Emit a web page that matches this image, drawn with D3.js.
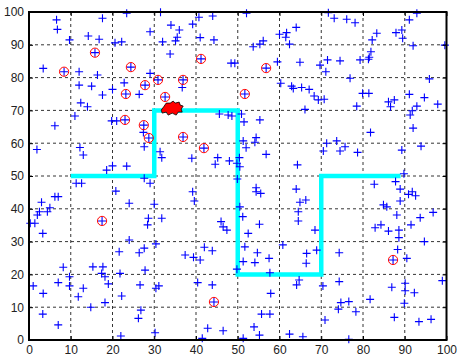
<!DOCTYPE html>
<html>
<head>
<meta charset="utf-8">
<script src="https://cdn.jsdelivr.net/npm/d3@7"></script>
<style>
  html, body { margin: 0; padding: 0; background: #fff; }
  svg { display: block; }
  text { font-family: "Liberation Sans", Arial, sans-serif; font-size: 12px; fill: #222; }
</style>
</head>
<body>
<svg id="chart" width="459" height="356"></svg>
<script>
// Tick values for both axes
const xTicks = [0, 10, 20, 30, 40, 50, 60, 70, 80, 90, 100];
const yTicks = [0, 10, 20, 30, 40, 50, 60, 70, 80, 90, 100];

// Scattered sensor nodes (blue +)
const nodes = [
  [6.6,97.6],[6.8,94.7],[9.7,91.5],[3.4,82.8],[14.2,92.7],[16.8,91.7],[17.6,98.1],[12.0,81.8],[16.4,80.8],[12.0,77.7],[15.0,77.4],[17.6,74.7],[12.4,72.3],[14.0,71.1],[11.0,68.3],[20.6,90.6],[22.2,90.9],[20.0,76.4],[22.8,78.4],[19.8,66.8],[21.0,66.8],
  [23.4,99.6],[31.5,99.9],[34.0,96.0],[39.2,96.3],[40.7,98.4],[44.0,98.8],[29.0,94.0],[36.0,94.5],[35.5,92.3],[35.1,91.2],[32.0,90.9],[41.0,92.2],[44.3,91.5],[33.8,87.2],[29.0,81.3],[26.4,74.9],[36.7,77.0],[45.6,68.9],[47.7,68.6],
  [52.1,99.6],[71.7,99.8],[73.1,98.1],[64.0,95.3],[60.0,93.2],[61.7,93.7],[61.5,92.3],[62.4,90.2],[53.7,89.4],[55.3,90.2],[56.1,91.2],[48.4,84.4],[49.3,84.4],[59.5,84.8],[64.9,84.7],[69.7,83.8],[71.5,85.4],[71.1,81.8],[60.3,78.3],[62.9,77.4],[63.3,76.7],[65.3,77.0],[67.1,76.4],[68.3,74.4],[69.3,73.2],[70.7,73.4],[66.1,70.3],[48.6,68.3],[50.9,68.9],[51.5,66.5],[55.3,67.1],
  [76.1,97.8],[78.1,96.7],[83.3,93.5],[82.2,91.5],[87.9,93.7],[89.3,94.5],[89.5,92.0],[91.1,97.6],[92.9,99.6],[92.0,89.7],[99.6,89.9],[81.9,87.9],[81.5,86.2],[81.3,85.6],[79.3,85.4],[74.5,85.1],[76.9,79.8],[95.9,79.6],[79.9,75.2],[81.4,75.2],[91.1,74.9],[94.7,73.9],[87.5,73.2],[86.1,72.6],[86.6,71.1],[78.5,71.3],[92.9,71.3],[91.8,69.9],[91.3,68.6],[97.9,71.9],[92.0,64.6],
  [6.2,65.3],[1.9,58.1],[12.2,58.7],[13.0,56.4],[18.6,51.8],[20.0,53.1],[20.8,45.4],[11.3,47.8],[12.6,47.8],[6.2,43.7],[7.0,43.7],[3.0,42.0],[5.0,40.3],[4.4,39.1],[2.5,39.1],[2.0,38.1],[0.3,35.6],[1.4,35.6],[3.3,32.5],[23.4,53.0],
  [27.4,63.3],[27.6,58.9],[31.4,57.4],[31.8,55.6],[39.0,55.4],[45.2,55.6],[44.6,53.6],[27.6,49.3],[29.0,47.8],[39.2,45.2],[39.6,42.4],[24.0,41.7],[30.0,41.4],[28.6,37.1],[31.8,37.1],[28.4,35.1],[46.0,36.1],[46.5,34.5],[47.4,33.5],[24.0,30.5],
  [51.3,60.7],[52.0,58.6],[54.4,61.7],[54.1,60.3],[56.8,56.6],[71.3,60.0],[70.5,57.6],[64.3,53.4],[48.0,54.6],[50.4,55.6],[49.8,53.9],[50.5,52.8],[49.9,49.1],[54.4,46.4],[54.4,45.2],[55.5,44.7],[64.0,46.0],[64.9,42.0],[66.3,42.7],[64.5,39.1],[64.5,36.3],[50.5,40.6],[51.2,37.6],[55.2,35.3],[52.5,32.5],[68.5,33.5],
  [81.8,63.3],[73.7,60.7],[75.7,58.9],[74.5,57.6],[78.7,57.2],[93.9,59.1],[89.3,57.9],[89.8,50.7],[82.7,47.5],[87.8,48.3],[88.9,46.0],[90.9,44.4],[91.8,45.2],[92.6,44.0],[88.9,42.4],[84.9,41.2],[85.7,40.6],[88.1,38.1],[93.7,37.3],[96.8,38.9],[82.9,34.2],[84.3,35.1],[86.1,33.2],[88.6,33.5],[88.6,31.2],[91.5,35.1],
  [1.0,16.5],[3.4,14.2],[3.3,7.9],[8.2,22.2],[9.7,19.3],[9.7,16.5],[7.0,17.5],[7.0,4.6],[13.0,15.8],[11.8,13.2],[15.3,22.3],[14.8,10.0],[17.7,22.3],[17.4,20.3],[18.2,19.3],[19.0,17.1],[18.2,11.4],[21.6,26.9],[21.8,20.3],[22.2,13.4],[22.0,1.2],
  [26.4,26.6],[27.6,28.0],[30.4,29.3],[27.8,21.3],[26.6,16.8],[30.4,15.8],[31.1,16.5],[26.8,9.1],[26.2,6.6],[30.2,2.2],[37.4,25.9],[39.4,25.2],[41.0,24.4],[42.0,28.3],[43.9,27.2],[40.4,17.5],[43.9,16.8],[42.8,3.6],[46.5,2.8],[41.5,0.5],
  [51.7,28.4],[54.7,26.6],[51.3,23.9],[54.1,23.6],[57.5,24.9],[49.8,21.6],[57.7,20.5],[60.8,29.0],[66.5,26.4],[68.9,27.4],[66.4,23.4],[64.7,18.3],[64.1,16.8],[70.4,16.5],[57.9,14.2],[55.7,7.9],[57.7,7.9],[53.9,4.0],[55.2,1.5],[51.3,0.5],[62.4,1.8],[65.6,1.0],[70.9,6.1],
  [88.3,27.6],[94.7,30.0],[74.3,26.6],[90.5,24.9],[74.3,17.8],[86.9,16.1],[90.1,17.3],[90.1,15.0],[92.3,14.4],[99.0,18.1],[81.7,12.4],[74.7,11.4],[76.6,11.7],[74.1,9.4],[78.3,8.6],[89.9,11.2],[87.5,6.9],[93.4,5.6],[96.3,6.3],[76.6,0.2]
];

// Nodes that have been reached (red ring around the +)
const targets = [
  [8.4,81.8],[15.8,87.6],[24.4,83.2],[27.8,77.7],[30.9,79.3],[36.9,79.3],[32.6,74.1],[23.2,75.0],[41.2,85.7],[23.0,67.1],
  [27.5,65.5],[28.7,61.6],[36.9,61.9],[41.9,58.5],[17.5,36.3],[44.3,11.6],[87.2,24.4],[56.8,82.9],[51.7,75.0]
];

// Corridor followed by the mobile agent (cyan)
const routeX = [10, 30, 30, 50, 50, 70, 70, 89];
const routeY = [50, 50, 70, 70, 20, 20, 50, 50];

// Current agent position (red blob)
const agentX = 34.3;
const agentY = 70.7;

(function draw() {
  const svg = d3.select("#chart");
  const mLeft = 29, mRight = 446.5, mTop = 12, mBottom = 340;

  const x = d3.scaleLinear().domain([0, 100]).range([mLeft, mRight]);
  const y = d3.scaleLinear().domain([0, 100]).range([mBottom, mTop]);

  // Dashed grid
  const grid = svg.append("g");
  grid.selectAll("line.gx").data(xTicks.slice(1, -1)).join("line")
    .attr("class", "gx")
    .attr("x1", d => x(d)).attr("x2", d => x(d)).attr("y1", mTop).attr("y2", mBottom)
    .attr("stroke", "#000").attr("stroke-width", 0.8).attr("stroke-dasharray", "3,3");
  grid.selectAll("line.gy").data(yTicks.slice(1, -1)).join("line")
    .attr("class", "gy")
    .attr("x1", mLeft).attr("x2", mRight).attr("y1", d => y(d)).attr("y2", d => y(d))
    .attr("stroke", "#000").attr("stroke-width", 0.8).attr("stroke-dasharray", "3,3");

  // Route
  const route = d3.line().x(d => x(d[0])).y(d => y(d[1]));
  svg.append("path")
    .datum(routeX.map((v, i) => [v, routeY[i]]))
    .attr("d", route)
    .attr("fill", "none").attr("stroke", "#00ffff").attr("stroke-width", 4.5)
    .attr("stroke-linejoin", "miter");

  // Plus markers
  const plus = "M-4,0H4M0,-4V4";
  svg.append("g").selectAll("path").data(nodes.concat(targets)).join("path")
    .attr("transform", d => `translate(${x(d[0])},${y(d[1])})`)
    .attr("d", plus).attr("stroke", "#0000ff").attr("stroke-width", 1.1).attr("fill", "none");

  // Rings on reached nodes
  svg.append("g").selectAll("circle").data(targets).join("circle")
    .attr("cx", d => x(d[0])).attr("cy", d => y(d[1])).attr("r", 4.6)
    .attr("fill", "none").attr("stroke", "#ff0000").attr("stroke-width", 1);

  // Agent blob
  const blob = [[-11,2],[-8,-2],[-6,-5],[-2,-5],[1,-7],[3,-5],[7,-6],[8,-3],[11,-2],[9,1],[10,4],[6,4],[4,7],[0,5],[-4,7],[-6,4],[-10,5]];
  svg.append("path")
    .attr("transform", `translate(${x(agentX)},${y(agentY)})`)
    .attr("d", d3.line().curve(d3.curveLinearClosed)(blob))
    .attr("fill", "#ff0000").attr("stroke", "#000").attr("stroke-width", 0.8);

  // Axes with inward ticks on all four sides
  const tick = 4;
  const xb = d3.axisBottom(x).tickValues(xTicks).tickSize(-tick).tickPadding(5).tickFormat(d3.format("d"));
  const yl = d3.axisLeft(y).tickValues(yTicks).tickSize(-tick).tickPadding(5).tickFormat(d3.format("d"));
  const xt = d3.axisTop(x).tickValues(xTicks).tickSize(-tick).tickFormat("");
  const yr = d3.axisRight(y).tickValues(yTicks).tickSize(-tick).tickFormat("");

  function style(g) {
    g.select(".domain").remove();
    g.selectAll(".tick line").attr("stroke", "#000");
    g.selectAll(".tick text").style("font-size", "12px").attr("fill", "#222");
  }
  svg.append("g").attr("transform", `translate(0,${mBottom})`).call(xb).call(style);
  svg.append("g").attr("transform", `translate(${mLeft},0)`).call(yl).call(style);
  svg.append("g").attr("transform", `translate(0,${mTop})`).call(xt).call(style);
  svg.append("g").attr("transform", `translate(${mRight},0)`).call(yr).call(style);

  // Box
  svg.append("rect")
    .attr("x", mLeft).attr("y", mTop).attr("width", mRight - mLeft).attr("height", mBottom - mTop)
    .attr("fill", "none").attr("stroke", "#000").attr("stroke-width", 2);
})();
</script>
</body>
</html>
